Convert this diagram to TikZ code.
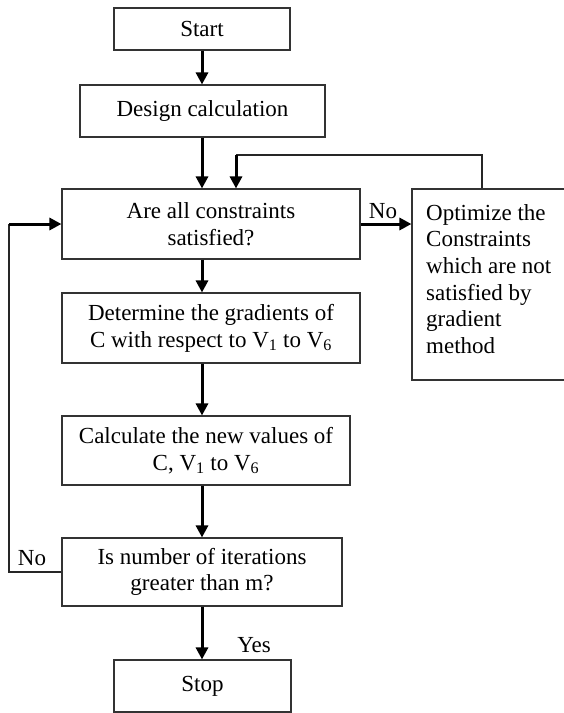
\documentclass[tikz,border=0pt]{standalone}
\usepackage{fontspec}
\setmainfont{Liberation Serif}
\usetikzlibrary{arrows.meta}
\begin{document}
\begin{tikzpicture}[x=1pt,y=-1pt,
  box/.style={draw=black!80,line width=1.1pt,inner sep=0pt,align=center,
    font=\fontsize{23}{26.7}\selectfont},
  flow/.style={line width=3pt,-{Triangle[width=12pt,length=12pt]}},
  route/.style={line width=1.1pt,draw=black!85},
  lab/.style={font=\fontsize{23}{26.7}\selectfont,inner sep=0pt}]
\fill[white] (0,0) rectangle (564,713);
\useasboundingbox (0,0) rectangle (564,713);
\clip (0,0) rectangle (564,713);
\node[box,minimum width=176pt,minimum height=42pt] (start) at (202,29) {Start};
\node[box,minimum width=245pt,minimum height=52pt] (design) at (202.5,111) {Design calculation};
\node[box,minimum width=298pt,minimum height=70pt] (check) at (211,224) {Are all constraints\\satisfied?};
\node[box,minimum width=156pt,minimum height=191pt] (opt) at (490,284.5) {};
\node[lab,align=left,anchor=west] (opttxt) at (426,279) {Optimize the\\Constraints\\which are not\\satisfied by\\gradient\\method};
\node[box,minimum width=298pt,minimum height=70pt] (grad) at (211,328) {Determine the gradients of\\C with respect to V\textsubscript{1} to V\textsubscript{6}};
\node[box,minimum width=288pt,minimum height=69pt] (calc) at (206,450.5) {Calculate the new values of\\C, V\textsubscript{1} to V\textsubscript{6}};
\node[box,minimum width=280pt,minimum height=68pt] (iter) at (202,572) {Is number of iterations\\greater than m?};
\node[box,minimum width=177pt,minimum height=52pt] (stop) at (202.5,686) {Stop};
\coordinate (axis) at (202,0);
\coordinate (fbL) at (236,155);
\coordinate (fbR) at (482,155);
\coordinate (lb) at (9,224);
\draw[flow] (start.south -| axis) -- (design.north -| axis);
\draw[flow] (design.south -| axis) -- (check.north -| axis);
\draw[route] (opt.north -| fbR) -- (fbR) -- (fbL);
\draw[flow] (fbL) -- (fbL |- check.north);
\draw[flow] (check.east) -- (check.east -| opt.west);
\draw[flow] (check.south -| axis) -- (grad.north -| axis);
\draw[flow] (grad.south -| axis) -- (calc.north -| axis);
\draw[flow] (calc.south -| axis) -- (iter.north -| axis);
\draw[flow] (iter.south -| axis) -- (stop.north -| axis);
\draw[route] (iter.west) -- (iter.west -| lb) -- (lb);
\draw[flow] (lb) -- (check.west);
\node[lab] (no1) at (383,211) {No};
\node[lab] (no2) at (32,558) {No};
\node[lab] (yes) at (254,645) {Yes};
\end{tikzpicture}
\end{document}
